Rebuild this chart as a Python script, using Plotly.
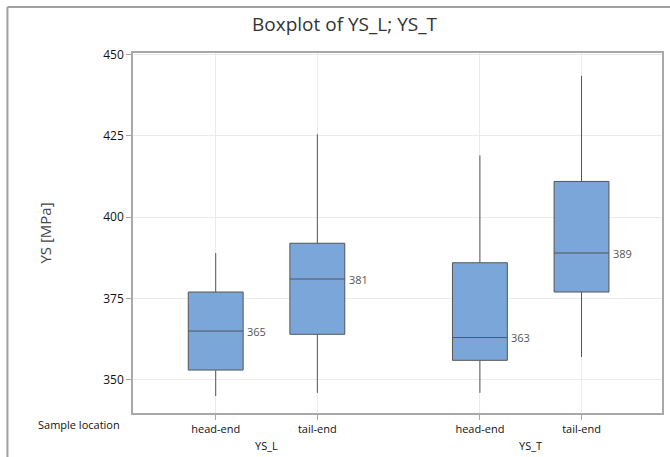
import plotly.graph_objects as go

# ---- data ----
groups = ["YS_L", "YS_T"]
locations = ["head-end", "tail-end"]
q1 = [353, 364, 356, 377]
median = [365, 381, 363, 389]
q3 = [377, 392, 386, 411]
lower_whisker = [345, 346, 346, 357]
upper_whisker = [389, 425.5, 419, 443.5]
y_ticks = [350, 375, 400, 425, 450]

# positions: group offset + location index
group_gap = 2.6
positions = []
tick_text = []
group_centers = []
for gi, g in enumerate(groups):
    base = gi * group_gap
    for li, loc in enumerate(locations):
        positions.append(base + li)
        tick_text.append(loc)
    group_centers.append(base + (len(locations) - 1) / 2)

FONT = "Open Sans"
box_w = 0.54

fig = go.Figure()
fig.add_trace(go.Box(
    x=positions, q1=q1, median=median, q3=q3,
    lowerfence=lower_whisker, upperfence=upper_whisker,
    width=box_w, whiskerwidth=0, boxpoints=False,
    fillcolor="#7BA6D9", line=dict(color="#555555", width=1),
    hoverinfo="skip", showlegend=False,
))

annotations = []
for x, m in zip(positions, median):
    annotations.append(dict(x=x + box_w / 2 + 0.02, y=m, xref="x", yref="y",
                            text=str(m), showarrow=False, xanchor="left",
                            yanchor="middle",
                            font=dict(family=FONT, size=11, color="#555555")))
for gc, g in zip(group_centers, groups):
    annotations.append(dict(x=gc, y=-0.09, xref="x", yref="paper", text=g,
                            showarrow=False, xanchor="center", yanchor="middle",
                            font=dict(family=FONT, size=11, color="#111111")))
annotations.append(dict(x=-0.02, y=-0.033, xref="paper", yref="paper",
                        text="Sample location", showarrow=False,
                        xanchor="right", yanchor="middle",
                        font=dict(family=FONT, size=11, color="#111111")))
annotations.append(dict(x=0.401, y=1.0806, xref="paper", yref="paper",
                        text="Boxplot of YS_L; YS_T", showarrow=False,
                        xanchor="center", yanchor="middle",
                        font=dict(family=FONT, size=19, color="#333333")))

# outer frame (left and top edges)
shapes = [
    dict(type="line", xref="paper", yref="paper", x0=-0.2373, x1=-0.2373,
         y0=1.1278, y1=-0.3, line=dict(color="#a0a0a0", width=2)),
    dict(type="line", xref="paper", yref="paper", x0=-0.2373, x1=1.2,
         y0=1.1278, y1=1.1278, line=dict(color="#a0a0a0", width=2)),
]

fig.update_layout(
    width=670, height=457,
    margin=dict(l=133, r=6, t=53, b=44),
    paper_bgcolor="white", plot_bgcolor="white",
    font=dict(family=FONT, color="#111111"),
    annotations=annotations, shapes=shapes,
    xaxis=dict(range=[-0.814, 4.392], tickvals=positions, ticktext=tick_text,
               showgrid=True, gridcolor="#ebebeb", gridwidth=1,
               showline=True, linecolor="#a8a8a8", linewidth=1.5, mirror=True,
               ticks="outside", ticklen=5, tickcolor="#a8a8a8",
               tickfont=dict(family=FONT, size=11, color="#111111"),
               zeroline=False),
    yaxis=dict(range=[339.8, 450.5], tickvals=y_ticks,
               showgrid=True, gridcolor="#ebebeb", gridwidth=1,
               showline=True, linecolor="#a8a8a8", linewidth=1.5, mirror=True,
               ticks="outside", ticklen=5, tickcolor="#a8a8a8",
               tickfont=dict(family=FONT, size=12, color="#111111"),
               title=dict(text="YS [MPa]", standoff=48,
                          font=dict(family=FONT, size=15, color="#444444")),
               zeroline=False),
)

fig.write_html("out.html")
